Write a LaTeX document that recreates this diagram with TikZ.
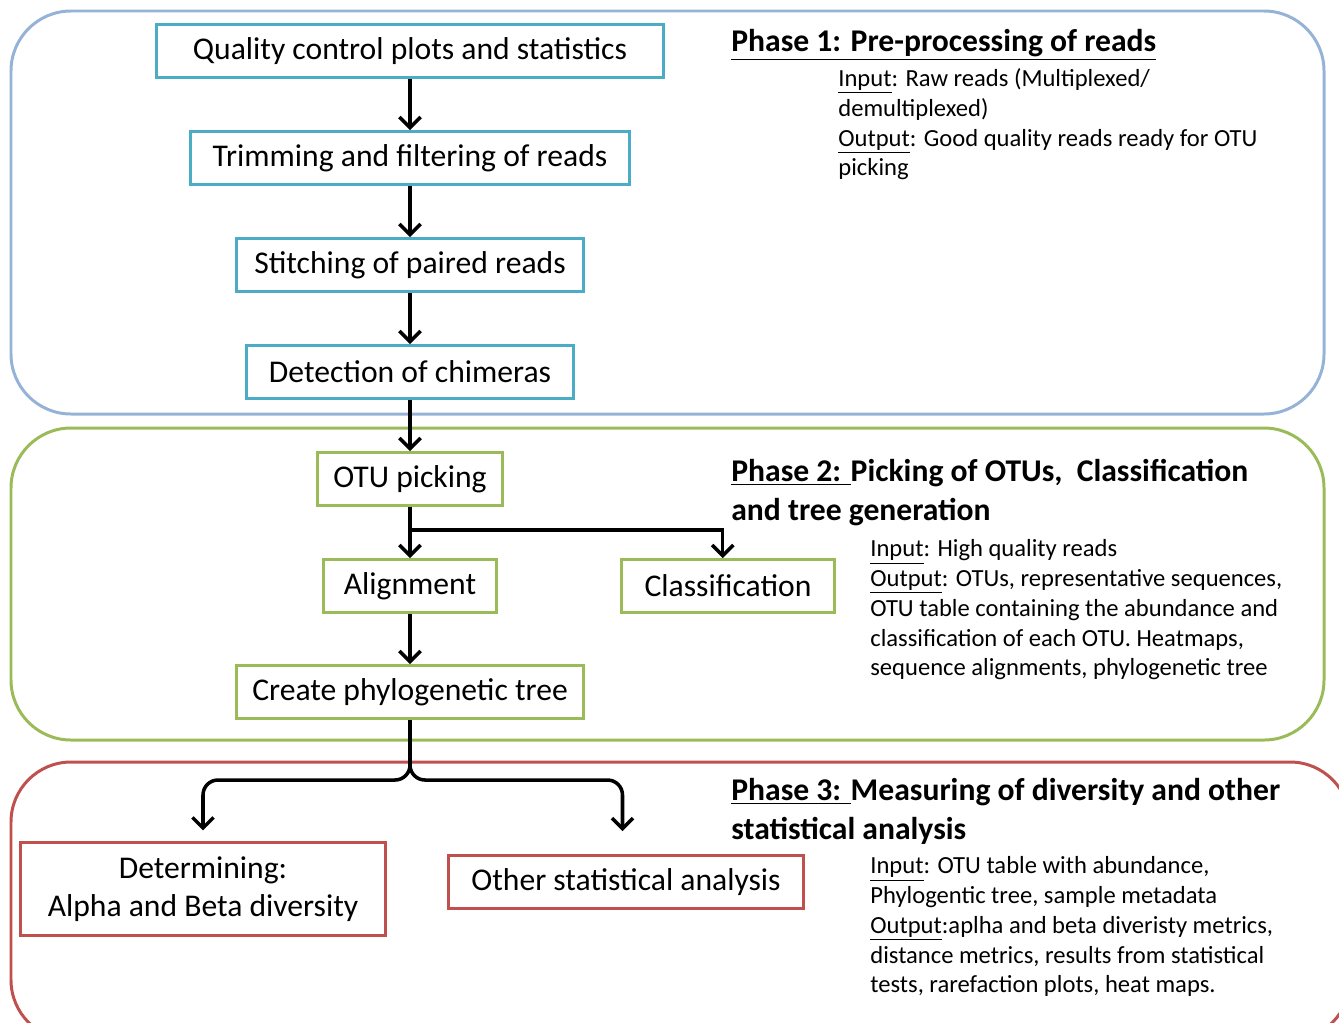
\documentclass[tikz,border=0pt]{standalone}
\usepackage{fontspec}
\setmainfont{Carlito}
\usepackage{tikz}
\usetikzlibrary{arrows.meta,calc}
\definecolor{frameblue}{HTML}{95B3D7}
\definecolor{framegreen}{HTML}{9BBB59}
\definecolor{framered}{HTML}{C0504D}
\definecolor{boxteal}{HTML}{4BACC6}

\tikzset{
  phaseframe/.style={line width=1.7pt,rounded corners=1.2cm},
  boxone/.style={draw=boxteal,line width=1.7pt,minimum height=1.06cm,font=\fontsize{18}{22}\selectfont},
  boxtwo/.style={boxone,draw=framegreen},
  boxthree/.style={boxone,draw=framered,align=center},
  heading/.style={anchor=north west,align=left,inner sep=0pt,font=\fontsize{18}{22}\bfseries\selectfont},
  notes/.style={anchor=north west,align=left,inner sep=0pt,font=\fontsize{14}{17}\selectfont},
  arr/.style={line width=2pt,-{Straight Barb[length=6pt,width=12pt,line width=2pt]}}
}

\begin{document}
\begin{tikzpicture}[x=0.02cm,y=-0.02cm]
    \clip (0,0) rectangle (1339,1022);
    % phase frames
    \draw[phaseframe,frameblue] (11,11) rectangle (1324,414);
    \draw[phaseframe,framegreen] (11,428) rectangle (1324,740);
    \draw[phaseframe,framered] (11,762) rectangle (1350,1040);

    % phase 1
    \node[boxone,minimum width=10.16cm] (qc) at (410,51) {Quality control plots and statistics};
    \node[boxone,minimum width=8.8cm] (trim) at (410,158) {Trimming and filtering of reads};
    \node[boxone,minimum width=6.96cm] (stitch) at (410,265) {Stitching of paired reads};
    \node[boxone,minimum width=6.54cm] (chim) at (410,372) {Detection of chimeras};
    \draw[arr] (qc) -- (trim);
    \draw[arr] (trim) -- (stitch);
    \draw[arr] (stitch) -- (chim);

    % phase 2
    \node[boxtwo,minimum width=3.72cm] (otu) at (410,479) {OTU picking};
    \node[boxtwo,minimum width=3.48cm] (align) at (410,586) {Alignment};
    \node[boxtwo,minimum width=4.28cm] (class) at (728,586) {Classification};
    \node[boxtwo,minimum width=6.94cm] (tree) at (410,692) {Create phylogenetic tree};
    \draw[arr] (chim) -- (otu);
    \draw[arr] (otu) -- (align);
    \draw[arr] (otu.south) -- ++(0,23) -| ([xshift=-3pt]class.north);
    \draw[arr] (align) -- (tree);

    % phase 3
    \node[boxthree,minimum width=7.3cm,minimum height=1.86cm] (div) at (203,889) {Determining:\\Alpha and Beta diversity};
    \node[boxthree,minimum width=7.1cm] (stats) at (626,882) {Other statistical analysis};
    \coordinate (fork) at (410,780);
    \draw[arr,rounded corners=0.3cm,shorten >=6pt] (tree.south) -- (fork) -| (div.north);
    \draw[arr,rounded corners=0.3cm,shorten >=13pt] (tree.south) -- (fork) -| ([xshift=-2pt]stats.north);

    % phase texts
    \node[heading] (head1) at (731,29) {\underline{Phase 1: Pre-processing of reads}};
    \node[notes] (note1) at (838,68) {\underline{Input}: Raw reads (Multiplexed/\\demultiplexed)\\\underline{Output}: Good quality reads ready for OTU\\picking};
    \node[heading] (head2) at (731,459) {\underline{Phase 2: }Picking of OTUs,\ \ Classification\\and tree generation};
    \node[notes] (note2) at (870,539) {\underline{Input}: High quality reads\\\underline{Output}: OTUs, representative sequences,\\OTU table containing the abundance and\\classification of each OTU. Heatmaps,\\sequence alignments, phylogenetic tree};
    \node[heading] (head3) at (731,778) {\underline{Phase 3: }Measuring of diversity and other\\statistical analysis};
    \node[notes] (note3) at (870,856) {\underline{Input}: OTU table with abundance,\\Phylogentic tree, sample metadata\\\underline{Output}:aplha and beta diveristy metrics,\\distance metrics, results from statistical\\tests, rarefaction plots, heat maps.};
\end{tikzpicture}
\end{document}
